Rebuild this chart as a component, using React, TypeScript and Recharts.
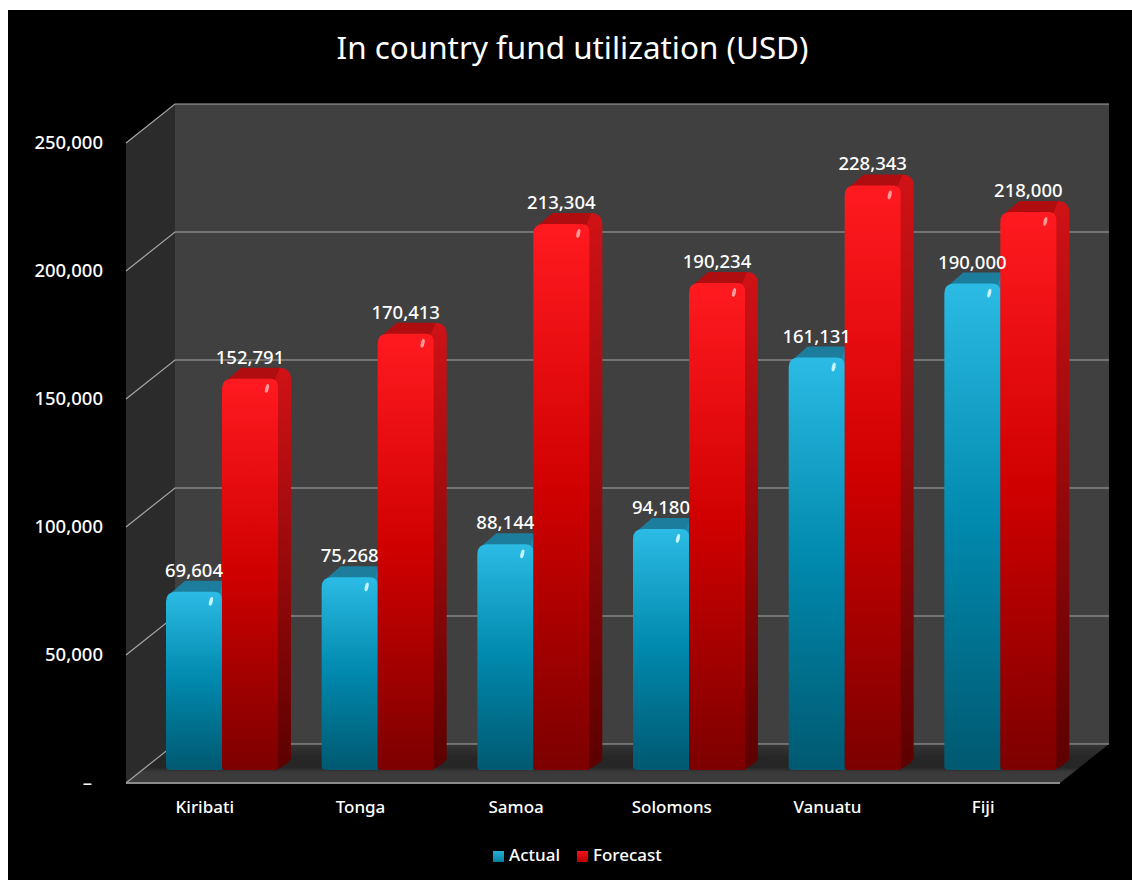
import React from 'react';
import { BarChart, Bar, XAxis, YAxis, ReferenceLine, ReferenceArea, LabelList, Legend } from 'recharts';

const countries = ['Kiribati', 'Tonga', 'Samoa', 'Solomons', 'Vanuatu', 'Fiji'];
const actual = [69604, 75268, 88144, 94180, 161131, 190000];
const forecast = [152791, 170413, 213304, 190234, 228343, 218000];
const yTicks = [0, 50000, 100000, 150000, 200000, 250000];

const rows = countries.map((name, i) => ({ name, actual: actual[i], forecast: forecast[i] }));

const FONT = '"Noto Sans", sans-serif';
// Depth of the room drawn behind the bars, relative to the value scale.
const WALL_DX = 49;
const WALL_UP = 26;
const WALL_DOWN = 13;
// Depth and shift of the individual bars inside that room.
const BAR_SHIFT = 18;
const BAR_DX = 13;
const BAR_DY = 11;

const fmt = (v: number) => v.toLocaleString('en-US');

function RoomShape(props: any) {
  const { x, y, width, height } = props;
  const top = y - WALL_UP;
  const bottom = y + height;
  const fx = x;
  const bx = x + WALL_DX;
  const r = x + width;
  return (
    <g>
      <polygon
        points={`${bx},${top} ${r + WALL_DX},${top} ${r + WALL_DX},${bottom - WALL_UP} ${bx},${bottom - WALL_UP}`}
        fill="#404040"
      />
      <polygon
        points={`${fx},${y + WALL_DOWN} ${bx},${top} ${bx},${bottom - WALL_UP} ${fx},${bottom + WALL_DOWN}`}
        fill="#2b2b2b"
      />
      <polygon
        points={`${fx},${bottom + WALL_DOWN} ${bx},${bottom - WALL_UP} ${r + WALL_DX},${bottom - WALL_UP} ${r},${bottom + WALL_DOWN}`}
        fill="url(#floorFill)"
      />
      <line x1={fx} y1={bottom + WALL_DOWN} x2={r} y2={bottom + WALL_DOWN} stroke="#8a8a8a" strokeWidth={2} />
    </g>
  );
}

function GridShape(props: any) {
  const { x1, x2, y1 } = props;
  const pts = `${x1},${y1 + WALL_DOWN} ${x1 + WALL_DX},${y1 - WALL_UP} ${x2 + WALL_DX},${y1 - WALL_UP}`;
  return <polyline points={pts} fill="none" stroke="#a6a6a6" strokeWidth={1.2} />;
}

function bar3d(kind: 'actual' | 'forecast') {
  const front = `url(#${kind}Front)`;
  const side = `url(#${kind}Side)`;
  const topFace = kind === 'actual' ? '#1c7d9d' : '#b00d10';
  const glint = kind === 'actual' ? '#c8f4ff' : '#ff9a9a';
  return function Bar3d(props: any) {
    const { x, y, width, height } = props;
    const left = x + BAR_SHIFT;
    const right = left + width;
    const bottom = y + height;
    const r = 10;
    const rr = 8;
    return (
      <g>
        <path
          d={`M${right - 6},${y + 2} L${right + BAR_DX - 12},${y - BAR_DY} Q${right + BAR_DX},${y - BAR_DY} ${right + BAR_DX},${y - BAR_DY + 12}
              L${right + BAR_DX},${bottom - BAR_DY} Q${right + 6},${bottom - 1} ${right - 8},${bottom} Z`}
          fill={side}
        />
        <path
          d={`M${left + 4},${y + 2} L${left + BAR_DX + 6},${y - BAR_DY} L${right + BAR_DX - 11},${y - BAR_DY} L${right - 4},${y + 3} Z`}
          fill={topFace}
        />
        <path
          d={`M${left},${y + r} Q${left},${y} ${left + r},${y} L${right - rr},${y} Q${right},${y} ${right},${y + rr}
              L${right},${bottom} L${left + 4},${bottom} Q${left},${bottom} ${left},${bottom - 4} Z`}
          fill={front}
        />
        <ellipse
          cx={right - 11}
          cy={y + 9.5}
          rx={1.8}
          ry={4.5}
          transform={`rotate(14 ${right - 11} ${y + 9.5})`}
          fill={glint}
        />
      </g>
    );
  };
}

const ActualBar = bar3d('actual');
const ForecastBar = bar3d('forecast');

function ValueTag(props: any) {
  const { x, y, width, value } = props;
  return (
    <text
      x={x + BAR_SHIFT + width / 2}
      y={y - 15}
      textAnchor="middle"
      fill="#fff"
      fontSize={18.5}
      fontWeight={500}
      fontFamily={FONT}
    >
      {fmt(value)}
    </text>
  );
}

function YTick(props: any) {
  const { x, y, payload } = props;
  const zero = payload.value === 0;
  return (
    <text
      x={zero ? x - 26 : x - 15}
      y={y + WALL_DOWN + 6}
      textAnchor="end"
      fill="#fff"
      fontSize={18.5}
      fontWeight={500}
      fontFamily={FONT}
    >
      {zero ? '–' : fmt(payload.value)}
    </text>
  );
}

function XTick(props: any) {
  const { x, y, payload } = props;
  return (
    <text x={x + 1} y={y + 35} textAnchor="middle" fill="#fff" fontSize={17} fontWeight={500} fontFamily={FONT}>
      {payload.value}
    </text>
  );
}

function LegendRow() {
  const items = [
    { label: 'Actual', color: 'linear-gradient(#25aed6, #0a7f9f)' },
    { label: 'Forecast', color: 'linear-gradient(#f5141a, #b80004)' },
  ];
  return (
    <div style={{ display: 'flex', paddingLeft: 485, fontFamily: FONT, fontSize: 17, fontWeight: 500, color: '#fff' }}>
      {items.map((it) => (
        <div key={it.label} style={{ display: 'flex', alignItems: 'center', marginRight: 17 }}>
          <span style={{ width: 11, height: 11, background: it.color, marginRight: 5, marginTop: 4 }} />
          {it.label}
        </div>
      ))}
    </div>
  );
}

export default function App() {
  return (
    <div style={{ position: 'absolute', left: 8, top: 10, width: 1124, height: 870, background: '#000' }}>
      <BarChart
        width={1124}
        height={870}
        data={rows}
        barSize={56}
        barGap={0}
        barCategoryGap={0}
        margin={{ top: 120, right: 72, bottom: 57, left: 38 }}
      >
        <defs>
          <linearGradient id="actualFront" x1="0" y1="0" x2="0" y2="1">
            <stop offset="0" stopColor="#2bbbe4" />
            <stop offset="0.5" stopColor="#0088ad" />
            <stop offset="1" stopColor="#005970" />
          </linearGradient>
          <linearGradient id="forecastFront" x1="0" y1="0" x2="0" y2="1">
            <stop offset="0" stopColor="#ff1a20" />
            <stop offset="0.5" stopColor="#cf0000" />
            <stop offset="1" stopColor="#7c0000" />
          </linearGradient>
          <linearGradient id="actualSide" x1="0" y1="0" x2="0" y2="1">
            <stop offset="0" stopColor="#1c8fb2" />
            <stop offset="1" stopColor="#003f50" />
          </linearGradient>
          <linearGradient id="forecastSide" x1="0" y1="0" x2="0" y2="1">
            <stop offset="0" stopColor="#d01216" />
            <stop offset="1" stopColor="#5c0000" />
          </linearGradient>
          <linearGradient id="floorFill" x1="0" y1="0" x2="0" y2="1">
            <stop offset="0" stopColor="#353535" />
            <stop offset="0.35" stopColor="#262626" />
            <stop offset="0.6" stopColor="#262626" />
            <stop offset="0.72" stopColor="#3a3a3a" />
            <stop offset="1" stopColor="#3c3c3c" />
          </linearGradient>
        </defs>

        <text x={564.5} y={49} textAnchor="middle" fill="#fff" fontSize={31.4} fontFamily={FONT}>
          In country fund utilization (USD)
        </text>

        {/* The room and its grid lines sit below the bars in the layer order. */}
        <ReferenceArea y1={0} y2={250000} ifOverflow="visible" shape={RoomShape} fill="none" zIndex={50} />
        {yTicks.map((t) => (
          <ReferenceLine key={t} y={t} ifOverflow="visible" shape={GridShape} zIndex={60} />
        ))}

        <XAxis dataKey="name" axisLine={false} tickLine={false} tick={XTick} height={30} interval={0} />
        <YAxis
          domain={[0, 250000]}
          ticks={yTicks}
          axisLine={false}
          tickLine={false}
          width={80}
          tick={YTick}
        />

        <Legend verticalAlign="bottom" content={LegendRow} wrapperStyle={{ left: 0, width: 1124, bottom: 14 }} />

        <Bar dataKey="actual" name="Actual" shape={ActualBar} isAnimationActive={false} zIndex={300}>
          <LabelList dataKey="actual" content={ValueTag} zIndex={900} />
        </Bar>
        <Bar dataKey="forecast" name="Forecast" shape={ForecastBar} isAnimationActive={false} zIndex={310}>
          <LabelList dataKey="forecast" content={ValueTag} zIndex={900} />
        </Bar>
      </BarChart>
    </div>
  );
}
